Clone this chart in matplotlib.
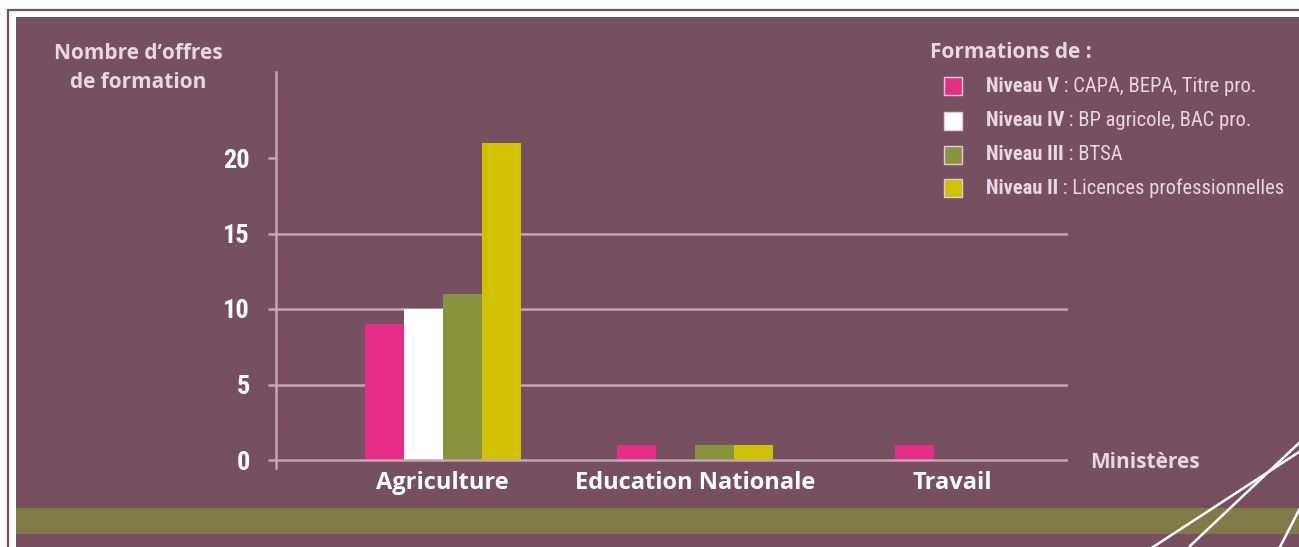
import matplotlib
matplotlib.use("Agg")
import matplotlib.pyplot as plt
from matplotlib import font_manager
from matplotlib.patches import Rectangle
from matplotlib.lines import Line2D

# ---------------- data ----------------
categories = ["Agriculture", "Education Nationale", "Travail"]
series_names = ["Niveau V", "Niveau IV", "Niveau III", "Niveau II"]
series_desc = [": CAPA, BEPA, Titre pro.", ": BP agricole, BAC pro.",
               ": BTSA", ": Licences professionnelles"]
niveau_v = [9, 1, 1]
niveau_iv = [10, 0, 0]
niveau_iii = [11, 1, 0]
niveau_ii = [21, 1, 0]
y_ticks = [0, 5, 10, 15, 20]
y_title = "Nombre d\u2019offres\nde formation"
x_title = "Ministères"
legend_title = "Formations de :"

# ---------------- style ----------------
W, H = 1299, 547
BG = "#764F61"
BAND = "#7F7A48"
GRID = "#C6A6B3"
LIGHT = "#EAD8E1"
colors = ["#E62E89", "#FFFFFF", "#88943D", "#D0C200"]


def pick(cands):
    for c in cands:
        try:
            font_manager.findfont(font_manager.FontProperties(family=c),
                                  fallback_to_default=False)
            return c
        except Exception:
            pass
    return "DejaVu Sans"


narrow = pick(["Liberation Sans Narrow", "Roboto Condensed", "Open Sans Condensed", "Roboto"])
main = pick(["Open Sans", "Lato", "DejaVu Sans"])


def P(x, y):
    return (x / W, 1 - y / H)


fig = plt.figure(figsize=(W / 100, H / 100), dpi=100, facecolor="white")

# frame and background
fig.patches.append(Rectangle(P(8, 560), (W + 20) / W, (560 - 10) / H, transform=fig.transFigure,
                             facecolor="none", edgecolor=BG, lw=1.6, zorder=-3))
fig.patches.append(Rectangle(P(16, 560), (W + 20) / W, (560 - 17) / H, transform=fig.transFigure,
                             facecolor=BG, edgecolor="none", zorder=-3))
fig.patches.append(Rectangle(P(16, 534), (W - 16) / W, 26 / H, transform=fig.transFigure,
                             facecolor=BAND, edgecolor="none", zorder=-2))
for (x0, y0, x1, y1) in [(1150, 549, 1299, 452), (1190, 546, 1299, 443), (1280, 547, 1299, 510)]:
    fig.lines.append(Line2D([x0 / W, x1 / W], [1 - y0 / H, 1 - y1 / H], transform=fig.transFigure,
                            color="white", lw=1.8, zorder=-1))

# axes
px_per_unit = 15.1
ax = fig.add_axes([276 / W, (H - 468) / H, (1068 - 276) / W, (468 - 72) / H])
ax.set_facecolor("none")
ax.set_ylim(-8 / px_per_unit, (460 - 72) / px_per_unit)
unit = 252.5
ax.set_xlim((276 - 442.5) / unit, (1068 - 442.5) / unit)

group_pos = [0, 1, 2.1]
label_pos = [0, 1, 2.02]
bw = 39 / unit
series = [niveau_v, niveau_iv, niveau_iii, niveau_ii]
for i, (vals, col) in enumerate(zip(series, colors)):
    xs = [g + (i - 1.5) * bw for g in group_pos]
    ax.bar(xs, vals, width=bw, color=col, edgecolor="none", zorder=3)

for s in ["top", "right", "bottom"]:
    ax.spines[s].set_visible(False)
ax.spines["left"].set_color(GRID)
ax.spines["left"].set_linewidth(1.8)
ax.spines["left"].set_zorder(4)

for y in y_ticks[1:-1]:
    ax.axhline(y, color=GRID, lw=1.8, zorder=2)
ax.axhline(y_ticks[0], color=GRID, lw=1.8, zorder=4)

ax.set_yticks(y_ticks)
ax.set_yticklabels([str(v) for v in y_ticks], fontfamily=narrow, fontweight="bold",
                   fontsize=19, color="white")
ax.tick_params(axis="y", length=5.8, width=1.8, color=GRID, pad=13)

ax.set_xticks(label_pos)
ax.set_xticklabels(categories, fontfamily=main, fontweight="bold", fontsize=17, color="white")
ax.tick_params(axis="x", length=0, pad=2)

# titles
fig.text(*P(138, 68), y_title, ha="center", va="center", fontfamily=main, fontweight="bold",
         fontsize=15, color=LIGHT, linespacing=1.45)
fig.text(*P(1090, 463), x_title, ha="left", va="center", fontfamily=main, fontweight="bold",
         fontsize=15, color=LIGHT)

# legend
fig.text(*P(930, 52), legend_title, ha="left", va="center", fontfamily=main, fontweight="bold",
         fontsize=15, color=LIGHT)
fig.canvas.draw()
renderer = fig.canvas.get_renderer()
legend_y = [86, 121, 155, 188]
for name, desc, col, yy in zip(series_names, series_desc, colors, legend_y):
    fig.patches.append(Rectangle(P(944, yy + 9), 18 / W, 18 / H, transform=fig.transFigure,
                                 facecolor=col, edgecolor="#E2CCD6", lw=1.0, zorder=3))
    t = fig.text(*P(986, yy), name, ha="left", va="center", fontfamily=narrow, fontweight="bold",
                 fontsize=14.8, color=LIGHT)
    bb = t.get_window_extent(renderer)
    fig.text(bb.x1 / W, 1 - yy / H, " " + desc, ha="left", va="center", fontfamily=narrow,
             fontsize=14.8, color=LIGHT)

fig.savefig("out.png", dpi=100, facecolor="white")
